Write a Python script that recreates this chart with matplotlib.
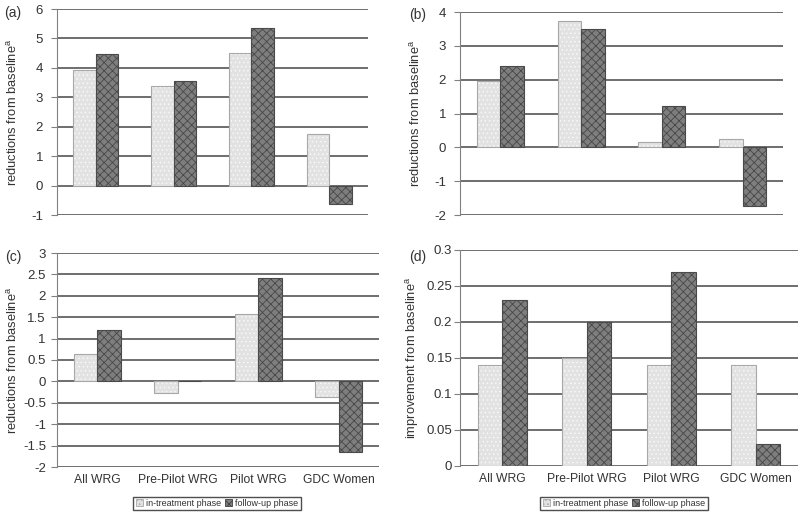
import matplotlib

matplotlib.use("Agg")
import matplotlib.pyplot as plt
import numpy as np
from matplotlib.patches import Patch

plt.rcParams["font.family"] = ["Liberation Sans", "DejaVu Sans"]
plt.rcParams["hatch.linewidth"] = 0.6

categories = ["All WRG", "Pre-Pilot WRG", "Pilot WRG", "GDC Women"]
series_names = ["in-treatment phase", "follow-up phase"]

a_in = [3.93, 3.40, 4.49, 1.75]
a_follow = [4.46, 3.56, 5.35, -0.61]
b_in = [1.96, 3.73, 0.17, 0.24]
b_follow = [2.40, 3.49, 1.22, -1.72]
c_in = [0.63, -0.26, 1.57, -0.37]
c_follow = [1.19, 0.02, 2.41, -1.66]
d_in = [0.14, 0.15, 0.14, 0.14]
d_follow = [0.23, 0.20, 0.27, 0.03]

a_ticks = [-1, 0, 1, 2, 3, 4, 5, 6]
b_ticks = [-2, -1, 0, 1, 2, 3, 4]
c_ticks = [-2, -1.5, -1, -0.5, 0, 0.5, 1, 1.5, 2, 2.5, 3]
d_ticks = [0, 0.05, 0.1, 0.15, 0.2, 0.25, 0.3]

TEXT = "#333333"
W, H = 800, 515


def px_axes(fig, left, top, right, bottom):
    return fig.add_axes([left / W, 1 - bottom / H, (right - left) / W, (bottom - top) / H])


def draw_bars(ax, x, values, face, hatch, hatch_color, edge):
    ax.bar(x, values, width=0.29, color=face, hatch=hatch,
           edgecolor=hatch_color, linewidth=0, zorder=2)
    ax.bar(x, values, width=0.29, fill=False, edgecolor=edge, linewidth=0.8, zorder=3)


def panel(ax, in_vals, follow_vals, ticks, labels, ylabel, show_x, pad):
    x = np.arange(len(categories))
    draw_bars(ax, x - 0.145, in_vals, "#e2e2e2", "....", "#f8f8f8", "#a8a8a8")
    draw_bars(ax, x + 0.145, follow_vals, "#7e7e7e", "xxxx", "#474747", "#4a4a4a")
    ax.set_xlim(-0.5, len(categories) - 0.5)
    ax.set_ylim(ticks[0], ticks[-1])
    ax.set_yticks(ticks)
    ax.set_yticklabels(labels, fontsize=9.5, color=TEXT)
    ax.yaxis.grid(True, color="#474747", linewidth=1.1, zorder=0)
    ax.set_axisbelow(True)
    for side in ["top", "right", "bottom"]:
        ax.spines[side].set_visible(False)
    ax.spines["left"].set_color("#808080")
    ax.tick_params(axis="y", length=4, color="#808080", pad=pad)
    if show_x:
        ax.set_xticks(x)
        ax.set_xticklabels(categories, fontsize=8.7, color=TEXT)
        ax.tick_params(axis="x", length=0, pad=5)
    else:
        ax.set_xticks([])
    ax.set_ylabel(ylabel, fontsize=9.3, color=TEXT)


fig = plt.figure(figsize=(8, 5.15), dpi=100)

boxes = {
    "a": (57, 9, 368, 215),
    "b": (460, 12, 783, 215),
    "c": (57, 253, 379, 467),
    "d": (460, 250, 798, 466),
}
ax_a = px_axes(fig, *boxes["a"])
ax_b = px_axes(fig, *boxes["b"])
ax_c = px_axes(fig, *boxes["c"])
ax_d = px_axes(fig, *boxes["d"])

red = r"reductions from baseline$^{\mathregular{a}}$"
imp = r"improvement from baseline$^{\mathregular{a}}$"

panel(ax_a, a_in, a_follow, a_ticks, [str(t) for t in a_ticks], red, False, 6)
panel(ax_b, b_in, b_follow, b_ticks, [str(t) for t in b_ticks], red, False, 6)
panel(ax_c, c_in, c_follow, c_ticks, [f"{t:g}" for t in c_ticks], red, True, 4)
panel(ax_d, d_in, d_follow, d_ticks, [f"{t:g}" for t in d_ticks], imp, True, 1.5)

for ax, key, x_lab in [(ax_a, "a", 13), (ax_b, "b", 416), (ax_c, "c", 13), (ax_d, "d", 413)]:
    left, top, right, bottom = boxes[key]
    ax.yaxis.set_label_coords((x_lab - left) / (right - left), 0.5)
    ax.yaxis.label.set_verticalalignment("center")

for text, xp, yp in [("(a)", 13, 13), ("(b)", 418, 15), ("(c)", 13, 257), ("(d)", 418, 257)]:
    fig.text(xp / W, 1 - yp / H, text, fontsize=10, color=TEXT, ha="center", va="center")

handles = [
    Patch(facecolor="#e2e2e2", edgecolor="#a8a8a8", hatch="....", linewidth=0.6),
    Patch(facecolor="#7e7e7e", edgecolor="#404040", hatch="xxxx", linewidth=0.6),
]
for cx in [217, 624]:
    fig.legend(handles, series_names, loc="center", bbox_to_anchor=(cx / W, 1 - 503.5 / H),
               ncol=2, fontsize=6.5, frameon=True, fancybox=False, edgecolor="#222222",
               handlelength=0.8, handleheight=0.8, handletextpad=0.3, columnspacing=0.5,
               borderpad=0.25, borderaxespad=0, labelcolor=TEXT)

fig.savefig("out.png", dpi=100)
